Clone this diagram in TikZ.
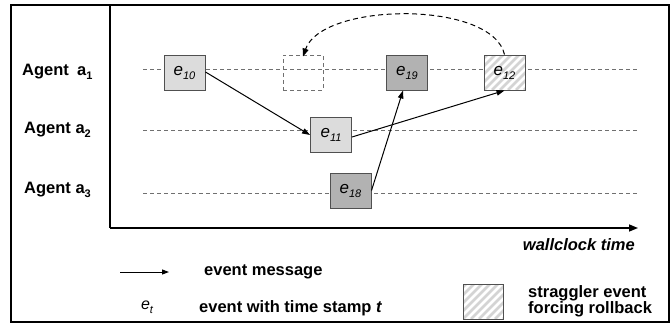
\documentclass[tikz,border=0pt]{standalone}
\usepackage{fontspec}
\setmainfont{Liberation Sans}
\usetikzlibrary{arrows.meta}
\definecolor{lightev}{HTML}{DCDCDC}
\definecolor{darkev}{HTML}{B2B2B2}
\definecolor{boxline}{HTML}{505050}
\definecolor{laneline}{HTML}{707070}
\definecolor{hatchgray}{HTML}{D4D4D4}
\tikzset{
  lane/.style={draw=laneline, line width=1pt, dash pattern=on 4pt off 3pt},
  evbox/.style={draw=boxline, line width=1pt, minimum width=41pt, minimum height=35pt,
                inner sep=0pt, font=\fontsize{17}{18}\selectfont\itshape},
  lightbox/.style={evbox, fill=lightev},
  darkbox/.style={evbox, fill=darkev},
  ghostbox/.style={draw=laneline, line width=1pt, dash pattern=on 4pt off 3pt,
                   minimum width=40pt, minimum height=35pt, inner sep=0pt},
  hatch/.style={fill=white, path picture={
      \foreach \k in {-7,...,7}
        \draw[line width=2.6pt, hatchgray]
          ([xshift=\k*8pt]path picture bounding box.south west) -- ++(45:80pt);
    }},
  msg/.style={line width=1pt, -{Triangle[length=8pt,width=5.5pt]}},
  rollback/.style={line width=1pt, dash pattern=on 5pt off 3.5pt,
                   -{Triangle[length=8pt,width=6pt]}},
  agent/.style={anchor=west, font=\fontsize{16.5}{18}\selectfont\bfseries, inner sep=0pt},
  legend/.style={anchor=west, font=\fontsize{16.5}{16}\selectfont\bfseries, inner sep=0pt,
                 align=left},
}
% lowered small index, set in the current font style
\newcommand{\lowsub}[1]{\raisebox{-0.45ex}{\fontsize{11}{11}\selectfont #1}}
\newcommand{\ev}[1]{e\lowsub{#1}}
\begin{document}
\begin{tikzpicture}[x=1pt, y=-1pt]
  \useasboundingbox (0,0) rectangle (671,324);

  % frame
  \draw[line width=2pt] (11,5) rectangle (669,322);

  % axes
  \coordinate (origin) at (110,228);
  \coordinate (ytop) at (110,5);
  \coordinate (xend) at (638,228);
  \draw[line width=1.5pt] (ytop) -- (origin);
  \draw[line width=1.5pt, -{Triangle[length=9pt,width=7pt]}] (origin) -- (xend);

  % agent lanes
  \coordinate (l1s) at (143,69);  \coordinate (l1e) at (637,69);
  \coordinate (l2s) at (143,130); \coordinate (l2e) at (637,130);
  \coordinate (l3s) at (143,193); \coordinate (l3e) at (637,193);
  \draw[lane] (l1s) -- (l1e);
  \draw[lane] (l2s) -- (l2e);
  \draw[lane] (l3s) -- (l3e);

  % agent labels
  \node[agent] (a1) at (22,72) {Agent\hspace{0.5em}a\lowsub{1}};
  \node[agent] (a2) at (24,130) {Agent a\lowsub{2}};
  \node[agent] (a3) at (24,190) {Agent a\lowsub{3}};

  % events
  \node[lightbox] (e10) at (184.5,72.5) {\ev{10}};
  \node[ghostbox] (ghost) at (303,72.5) {};
  \node[darkbox]  (e19) at (407,72.5) {\ev{19}};
  \node[evbox, hatch] (e12) at (504.5,72.5) {\ev{12}};
  \node[lightbox] (e11) at (331,134.5) {\ev{11}};
  \node[darkbox]  (e18) at (350.5,190.5) {\ev{18}};

  % messages
  \draw[msg] ([yshift=0.5pt]e10.east) -- ([yshift=-0.5pt]e11.west);
  \draw[msg] ([yshift=-2.5pt]e11.east) -- (e12.south);
  \draw[msg] (e18.east) -- ([xshift=-4pt]e19.south);

  % rollback
  \draw[rollback] (e12.north) .. controls (492,0) and (322,2) .. ([yshift=-2pt]ghost.north);

  % time axis label
  \node[anchor=east, inner sep=0pt, font=\fontsize{16.5}{18}\selectfont\bfseries\itshape]
    (wall) at (635,245) {wallclock time};

  % legend
  \coordinate (lgs) at (120,272);
  \coordinate (lge) at (169,272);
  \draw[line width=1pt, -{Triangle[length=7pt,width=5pt]}] (lgs) -- (lge);
  \node[legend] (lmsg) at (204,272) {event message};
  \node[inner sep=0pt, font=\fontsize{16}{18}\selectfont\itshape] (let) at (147,307) {e\lowsub{t}};
  \node[legend] (lstamp) at (199,308) {event with time stamp \textit{t}};
  \node[draw=boxline, line width=1pt, hatch, minimum width=40pt, minimum height=35pt,
        inner sep=0pt] (lhatch) at (483,301.5) {};
  \node[legend] (lstrag) at (528,301) {straggler event\\forcing rollback};
\end{tikzpicture}
\end{document}
